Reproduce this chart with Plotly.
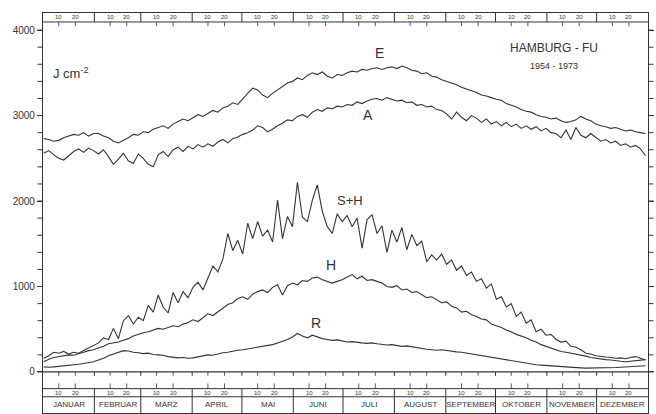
import plotly.graph_objects as go

# ---------------- data (every 3rd day) ----------------
days = list(range(1, 365, 3))  # 1, 4, 7, ... 364

E = [2730, 2720, 2700, 2710, 2740, 2760, 2780, 2770, 2800, 2760, 2790,
     2790, 2760, 2740, 2700, 2680, 2710, 2740, 2780, 2770,
     2810, 2800, 2840, 2860, 2880, 2850, 2900, 2930, 2960, 2940,
     2980, 3010, 2990, 3030, 3060, 3040, 3090, 3110, 3150, 3130,
     3200, 3260, 3320, 3300, 3240, 3210, 3260, 3300, 3350, 3380,
     3400, 3440, 3420, 3470, 3500, 3480, 3510, 3460, 3440, 3480,
     3470, 3500, 3520, 3510, 3540, 3530, 3550, 3560, 3540, 3560,
     3570, 3550, 3580, 3560, 3530, 3520, 3490, 3500, 3460, 3450,
     3420, 3400, 3380, 3360, 3330, 3310, 3290, 3270, 3240, 3230,
     3210, 3190, 3180, 3140, 3120, 3100, 3070, 3050, 3040, 3010,
     2990, 2980, 2960, 2970, 2940, 2920, 2930, 2950, 2990, 2960,
     2940, 2900, 2880, 2870, 2850, 2860, 2840, 2820, 2830, 2810,
     2800, 2790]

A = [2560, 2590, 2540, 2500, 2480, 2530, 2580, 2610, 2570, 2620, 2590,
     2550, 2600, 2520, 2430, 2490, 2560, 2470, 2440, 2550,
     2500, 2430, 2400, 2540, 2580, 2520, 2600, 2630, 2580, 2640,
     2610, 2660, 2630, 2670, 2640, 2690, 2720, 2680, 2730, 2750,
     2780, 2800, 2830, 2880, 2860, 2810, 2840, 2880, 2910, 2950,
     2940, 2990, 3010, 2980, 3040, 3070, 3050, 3090, 3080, 3110,
     3100, 3130, 3120, 3160, 3140, 3170, 3190, 3200, 3180, 3210,
     3190, 3170, 3180, 3150, 3160, 3120, 3130, 3100, 3110, 3070,
     3060, 3020, 2960, 3040, 2980, 2940, 3000, 2970, 2920, 2960,
     2900, 2930, 2880, 2920, 2870, 2900, 2850, 2880, 2840, 2870,
     2820, 2850, 2800, 2790, 2740, 2830, 2720, 2860, 2770, 2740,
     2790, 2740, 2700, 2720, 2680, 2700, 2650, 2670, 2630, 2650,
     2610, 2530]

SH = [160, 190, 230, 220, 240, 210, 230, 220, 250, 280, 310,
      340, 400, 380, 510, 390, 600, 660, 560, 640,
      600, 780, 700, 900, 760, 690, 930, 810, 940, 870,
      990, 1050, 960, 1110, 1240, 1170, 1320, 1620, 1420, 1540,
      1380, 1740, 1560, 1760, 1590, 1660, 1520, 2010, 1560, 1820,
      1700, 2220, 1810, 1760, 2010, 2190, 1880, 1700, 1620, 1850,
      1760, 1830, 1700, 1800, 1450, 1780, 1840, 1620, 1710, 1400,
      1660, 1520, 1690, 1430, 1610, 1480, 1530, 1290, 1370, 1310,
      1380, 1260, 1310, 1190, 1240, 1130, 1170, 1060, 1090, 980,
      1030, 850, 880, 760, 800, 650, 700, 570, 610, 470,
      500, 430, 440, 380, 350, 360, 300, 290, 260, 220,
      210, 190, 180, 175, 170, 160, 165, 155, 170, 180,
      160, 140]

H = [120, 150, 170, 180, 190, 200, 195, 210, 230, 250, 260,
     280, 300, 330, 340, 350, 370, 390, 420, 440,
     460, 470, 490, 510, 500, 520, 540, 530, 560, 580,
     610, 590, 640, 680, 660, 700, 740, 790, 810, 860,
     880, 850, 910, 940, 960, 930, 990, 1020, 900, 1010,
     1040, 1020, 1070, 1060, 1100, 1110, 1080, 1060, 1040, 1060,
     1080, 1110, 1140, 1090, 1120, 1070, 1080, 1060, 1040, 1000,
     990, 1010, 960, 970, 930, 940, 900, 870, 880, 840,
     810, 820, 770, 750, 700, 710, 670, 650, 620, 610,
     560, 540, 520, 490, 470, 440, 420, 400, 370, 350,
     320, 300, 280, 260, 240, 230, 220, 210, 200, 185,
     170, 160, 150, 145, 140, 130, 125, 120, 125, 130,
     135, 145]

R = [60, 55, 60, 65, 70, 80, 85, 90, 100, 110, 120,
     140, 160, 190, 210, 230, 250, 245, 230, 225,
     215, 220, 205, 200, 195, 180, 175, 165, 170, 160,
     165, 175, 185, 200, 195, 210, 225, 230, 245, 255,
     260, 270, 280, 290, 300, 310, 320, 340, 360, 380,
     410, 450, 420, 400, 430, 410, 390, 380, 370, 375,
     360, 350, 355, 345, 340, 335, 340, 330, 320, 315,
     320, 310, 300, 305, 295, 285, 270, 265, 260, 255,
     260, 250, 240, 235, 230, 220, 215, 205, 190, 180,
     175, 165, 150, 140, 130, 120, 110, 100, 95, 85,
     80, 75, 70, 65, 60, 58, 55, 50, 48, 45,
     45, 44, 46, 48, 50, 52, 55, 58, 62, 66,
     70, 72]

months = ["JANUAR", "FEBRUAR", "MÄRZ", "APRIL", "MAI", "JUNI", "JULI",
          "AUGUST", "SEPTEMBER", "OKTOBER", "NOVEMBER", "DEZEMBER"]
month_len = [31, 28, 31, 30, 31, 30, 31, 31, 30, 31, 30, 31]
ytick_major = [0, 1000, 2000, 3000, 4000]
ytick_minor = list(range(0, 4001, 200))

# ---------------- figure ----------------
INK = "#333333"
FONT = "Liberation Sans"
Y_LO, Y_HI = -480, 4200
TOP_STRIP = 4095
BOT_STRIP_HI, BOT_STRIP_LO = -195, -290

fig = go.Figure()
xs = [d - 0.5 for d in days]
for vals in (E, A, SH, H, R):
    fig.add_trace(go.Scatter(x=xs, y=vals, mode="lines",
                             line=dict(color=INK, width=1.1),
                             hoverinfo="skip", showlegend=False))

shapes = []
def hline(y, w=1.0):
    shapes.append(dict(type="line", xref="x", yref="y", x0=0, x1=365,
                       y0=y, y1=y, line=dict(color=INK, width=w)))
def vline(x, y0, y1, w=1.0):
    shapes.append(dict(type="line", xref="x", yref="y", x0=x, x1=x,
                       y0=y0, y1=y1, line=dict(color=INK, width=w)))

hline(0, 1.2)
hline(TOP_STRIP)
hline(BOT_STRIP_HI)
hline(BOT_STRIP_LO)

# minor (every 200) ticks on both sides, drawn outside the frame
for v in ytick_minor:
    shapes.append(dict(type="line", xref="paper", yref="y", x0=-0.009, x1=0,
                       y0=v, y1=v, line=dict(color=INK, width=1)))
    shapes.append(dict(type="line", xref="paper", yref="y", x0=1, x1=1.009,
                       y0=v, y1=v, line=dict(color=INK, width=1)))

annotations = []
start = 0
for name, n in zip(months, month_len):
    end = start + n
    if start > 0:
        vline(start, Y_LO, BOT_STRIP_HI)
        vline(start, TOP_STRIP, Y_HI)
        vline(start, 0, -45)
    for dd in (10, 20):
        xd = start + dd - 0.5
        vline(xd, 0, -45, 0.8)
        vline(xd, BOT_STRIP_HI, BOT_STRIP_HI + 60, 0.8)
        vline(xd, TOP_STRIP, TOP_STRIP - 50, 0.8)
        annotations.append(dict(x=xd, y=(BOT_STRIP_HI + BOT_STRIP_LO) / 2,
                                text=str(dd), showarrow=False,
                                font=dict(size=6, color=INK, family=FONT)))
        annotations.append(dict(x=xd, y=(TOP_STRIP + Y_HI) / 2,
                                text=str(dd), showarrow=False,
                                font=dict(size=6, color=INK, family=FONT)))
    annotations.append(dict(x=(start + end) / 2, y=(BOT_STRIP_LO + Y_LO) / 2,
                            text=name, showarrow=False,
                            font=dict(size=8, color=INK,
                                      family="Liberation Sans Narrow, Liberation Sans")))
    start = end

labels = [
    (203, 3730, "E", 14),
    (196, 3010, "A", 14),
    (185, 2010, "S+H", 13),
    (174, 1250, "H", 14),
    (165, 575, "R", 14),
]
for x, y, t, s in labels:
    annotations.append(dict(x=x, y=y, text=t, showarrow=False,
                            font=dict(size=s, color=INK, family=FONT)))
annotations.append(dict(x=308, y=3790, text="HAMBURG - FU", showarrow=False,
                        font=dict(size=12, color=INK, family=FONT)))
annotations.append(dict(x=308, y=3580, text="1954 - 1973", showarrow=False,
                        font=dict(size=9, color=INK, family=FONT)))
annotations.append(dict(x=5, y=3500, text="J cm<sup>-2</sup>", showarrow=False,
                        xanchor="left",
                        font=dict(size=13, color=INK, family=FONT)))

fig.update_layout(
    width=656, height=414,
    margin=dict(l=43, r=8, t=13, b=1),
    paper_bgcolor="white", plot_bgcolor="white",
    shapes=shapes, annotations=annotations,
    xaxis=dict(range=[0, 365], showgrid=False, zeroline=False,
               showticklabels=False, ticks="", showline=True,
               linecolor=INK, linewidth=1.2, mirror=True),
    yaxis=dict(range=[Y_LO, Y_HI], showgrid=False, zeroline=False,
               tickvals=ytick_major,
               ticks="outside", ticklen=5, tickcolor=INK, tickwidth=1,
               showline=True, linecolor=INK, linewidth=1.2, mirror="ticks",
               tickfont=dict(size=10, color=INK, family=FONT)),
)

fig.write_html("out.html",
               config={"displayModeBar": False},
               post_script="document.body.style.margin='0';"
                           "document.body.style.padding='0';"
                           "document.body.style.overflow='hidden';")
